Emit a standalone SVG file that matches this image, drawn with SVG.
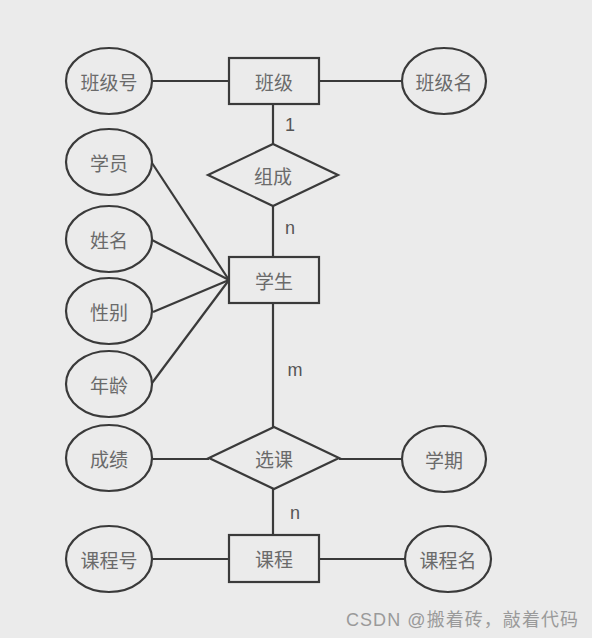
<svg xmlns="http://www.w3.org/2000/svg" width="592" height="638" viewBox="0 0 592 638">
<style>
.s{fill:none;stroke:#3a3a3a;stroke-width:2.2}
.t{font-family:"Noto Sans CJK SC","Noto Sans",sans-serif;font-size:19px;fill:#6a6a6a;text-anchor:middle;dominant-baseline:central}
.c{font-family:"Liberation Sans",Arial,sans-serif;font-size:18px;fill:#555;text-anchor:middle;dominant-baseline:central}
.w{font-family:"Liberation Sans","Noto Sans CJK SC",sans-serif;font-size:18px;fill:#9a9a9a}
</style>
<rect width="592" height="638" fill="#ebebeb"/>
<g id="connectors" class="s">
<line x1="152" y1="81" x2="229" y2="81"/>
<line x1="319" y1="81" x2="402" y2="81"/>
<line x1="273" y1="104" x2="273" y2="144"/>
<line x1="273" y1="206" x2="273" y2="257"/>
<line x1="152" y1="163" x2="229" y2="280"/>
<line x1="152" y1="240" x2="229" y2="280"/>
<line x1="153" y1="312" x2="229" y2="280"/>
<line x1="152" y1="383" x2="229" y2="280"/>
<line x1="273" y1="303" x2="273" y2="427"/>
<line x1="152" y1="459" x2="209" y2="459"/>
<line x1="339" y1="459" x2="402" y2="459"/>
<line x1="273" y1="489" x2="273" y2="535"/>
<line x1="152" y1="559" x2="229" y2="559"/>
<line x1="319" y1="559" x2="405" y2="559"/>
</g>
<g id="labels">
<text class="c" x="290" y="125">1</text>
<text class="c" x="290" y="228">n</text>
<text class="c" x="295" y="370">m</text>
<text class="c" x="295" y="513">n</text>
</g>
<g id="banji"><rect class="s" x="229" y="58" width="90" height="46"/><text class="t" x="274" y="81">班级</text></g>
<g id="banjihao"><ellipse class="s" cx="109" cy="81" rx="43" ry="33"/><text class="t" x="109" y="81">班级号</text></g>
<g id="banjiming"><ellipse class="s" cx="444" cy="81" rx="42" ry="33"/><text class="t" x="444" y="81">班级名</text></g>
<g id="zucheng"><polygon class="s" points="273,144 338,175 273,206 208,175"/><text class="t" x="273" y="175">组成</text></g>
<g id="xuesheng"><rect class="s" x="229" y="257" width="90" height="46"/><text class="t" x="274" y="280">学生</text></g>
<g id="xueyuan"><ellipse class="s" cx="109" cy="162" rx="43" ry="33"/><text class="t" x="109" y="162">学员</text></g>
<g id="xingming"><ellipse class="s" cx="109" cy="239" rx="43" ry="33"/><text class="t" x="109" y="239">姓名</text></g>
<g id="xingbie"><ellipse class="s" cx="109" cy="311" rx="43" ry="33"/><text class="t" x="109" y="311">性别</text></g>
<g id="nianling"><ellipse class="s" cx="109" cy="384" rx="43" ry="33"/><text class="t" x="109" y="384">年龄</text></g>
<g id="xuanke"><polygon class="s" points="274,427 339,458 274,489 209,458"/><text class="t" x="274" y="458">选课</text></g>
<g id="chengji"><ellipse class="s" cx="109" cy="458" rx="43" ry="33"/><text class="t" x="109" y="458">成绩</text></g>
<g id="xueqi"><ellipse class="s" cx="444" cy="459" rx="42" ry="33"/><text class="t" x="444" y="459">学期</text></g>
<g id="kecheng"><rect class="s" x="229" y="535" width="90" height="47"/><text class="t" x="274" y="558">课程</text></g>
<g id="kechenghao"><ellipse class="s" cx="109" cy="559" rx="43" ry="33"/><text class="t" x="109" y="559">课程号</text></g>
<g id="kechengming"><ellipse class="s" cx="448" cy="559" rx="43" ry="33"/><text class="t" x="448" y="559">课程名</text></g>
<text class="w" x="346" y="626" textLength="232" lengthAdjust="spacing">CSDN @搬着砖，敲着代码</text>
</svg>
